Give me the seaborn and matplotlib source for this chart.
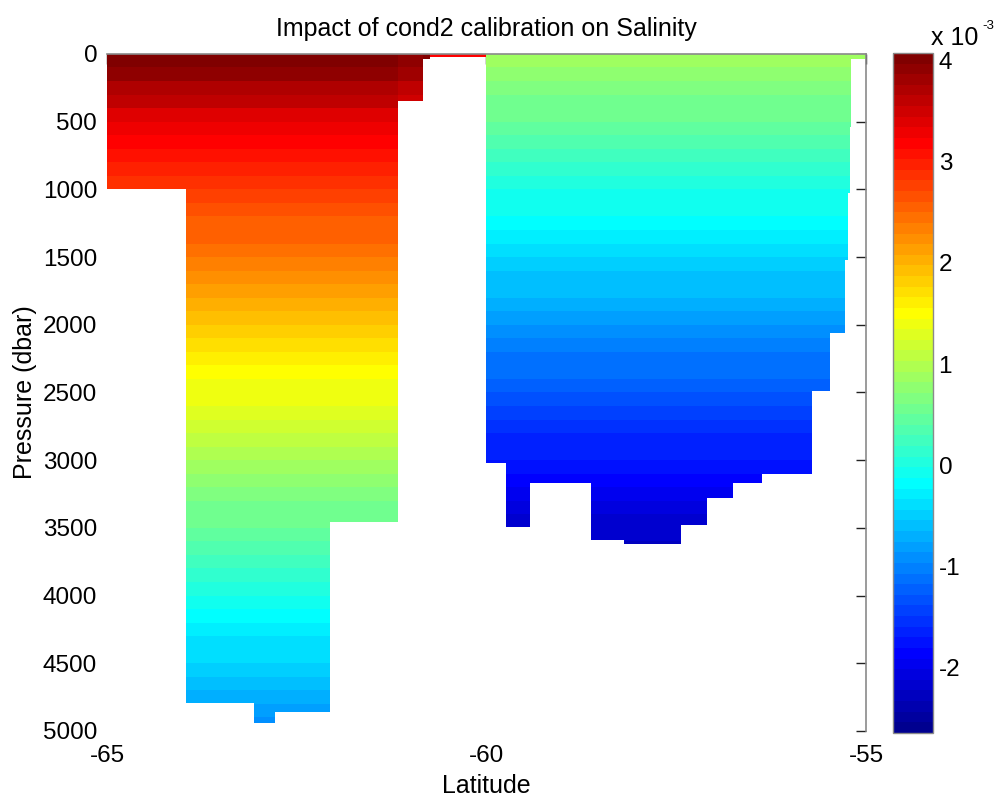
import numpy as np
import matplotlib
matplotlib.use("Agg")
import matplotlib.pyplot as plt
from matplotlib.colors import Normalize, ListedColormap
import seaborn as sns

# Column edges of the section, one column per CTD station (degrees latitude)
lat_edges = [-65.000, -63.958, -63.061, -62.784, -62.058, -61.161, -60.831, -60.739,
             -60.000, -59.749, -59.420, -58.628, -58.193, -57.441, -57.098, -56.755,
             -56.372, -55.712, -55.475, -55.277, -55.234, -55.211, -55.198, -55.000]

# Deepest pressure reached by each station (dbar)
max_pressure = [1000, 4790, 4940, 4860, 3460, 350, 40, 20,
                3020, 3490, 3170, 3590, 3620, 3480, 3280, 3170, 3100,
                2490, 2060, 1520, 1030, 540, 40]

# Which profile each station follows, plus a per-station shift (x 1e-3 psu)
station_group = ["west"] * 8 + ["east"] * 15
station_offset = [0.0, 0.0, 0.0, 0.0, 0.0, -0.10, 0.0, -0.84,
                  0.0, 0.0, 0.0, 0.0, 0.0, 0.0, 0.0, 0.0, 0.0,
                  0.0, 0.0, 0.0, 0.0, 0.0, 0.0]

# Salinity change in 100 dbar layers (x 1e-3 psu), layer tops 0, 100, 200, ...
west_profile = [4.02, 3.90, 3.70, 3.55, 3.40, 3.28, 3.18, 3.08, 2.99, 2.89,
                2.79, 2.70, 2.60, 2.50, 2.41, 2.31, 2.22, 2.12, 2.02, 1.93,
                1.83, 1.73, 1.64, 1.54, 1.445, 1.35, 1.26, 1.16, 1.07, 0.98,
                0.88, 0.79, 0.69, 0.60, 0.51, 0.41, 0.32, 0.22, 0.13, 0.04,
                -0.06, -0.15, -0.25, -0.34, -0.43, -0.53, -0.62, -0.72, -0.81, -0.90]
east_profile = [0.86, 0.77, 0.69, 0.60, 0.51, 0.42, 0.33, 0.25, 0.16, 0.07,
                -0.02, -0.11, -0.19, -0.28, -0.37, -0.46, -0.55, -0.63, -0.72, -0.81,
                -0.90, -0.99, -1.07, -1.16, -1.25, -1.34, -1.43, -1.51, -1.60, -1.69,
                -1.78, -1.87, -1.95, -2.04, -2.13, -2.22, -2.31]

color_limits = (-2.642, 4.074)
colorbar_ticks = [-2, -1, 0, 1, 2, 3, 4]
pressure_ticks = list(range(0, 5001, 500))
latitude_ticks = [-65, -60, -55]

profiles = {"west": west_profile, "east": east_profile}

# Pressure grid of 10 dbar cells; each cell takes the value of its 100 dbar layer
p_edges = np.arange(0, 5001, 10)
p_tops = p_edges[:-1]
field = np.full((len(p_tops), len(max_pressure)), np.nan)
for j, (grp, pmax, off) in enumerate(zip(station_group, max_pressure, station_offset)):
    prof = profiles[grp]
    for i, p in enumerate(p_tops):
        k = int(p // 100)
        if p < pmax and k < len(prof):
            field[i, j] = prof[k] + off
field = np.ma.masked_invalid(field)


def classic_jet(m=64):
    """64-step jet colour table (dark blue -> cyan -> yellow -> dark red)."""
    n = int(np.ceil(m / 4))
    u = np.concatenate([np.arange(1, n + 1) / n, np.ones(n - 1), np.arange(n, 0, -1) / n])
    g = int(np.ceil(n / 2)) - (1 if m % 4 == 1 else 0) + np.arange(1, len(u) + 1)
    r = g + n
    b = g - n
    table = np.zeros((m, 3))
    for col, idx in ((0, r), (1, g), (2, b)):
        keep = (idx >= 1) & (idx <= m)
        table[idx[keep] - 1, col] = u[keep]
    return ListedColormap(table, name="classic_jet")


sns.set_theme(style="white")
plt.rcParams["font.family"] = ["Liberation Sans", "DejaVu Sans"]
plt.rcParams.update({
    "text.color": "black",
    "axes.labelcolor": "black",
    "xtick.color": "black",
    "ytick.color": "black",
})

cmap = classic_jet(64)
norm = Normalize(vmin=color_limits[0], vmax=color_limits[1])

fig = plt.figure(figsize=(9.95, 7.98), dpi=100)
ax = fig.add_axes([0.1075, 0.0840, 0.7628, 0.8484])
ax.set_axisbelow(True)
mesh = ax.pcolormesh(lat_edges, p_edges, field, cmap=cmap, norm=norm,
                     shading="flat", edgecolors="none", antialiased=False)

ax.set_xlim(-65, -55)
ax.set_ylim(5000, 0)
ax.set_xticks(latitude_ticks)
ax.set_xticklabels([str(v) for v in latitude_ticks])
ax.set_yticks(pressure_ticks)
ax.set_yticklabels([str(v) for v in pressure_ticks])
ax.tick_params(direction="in", length=7, width=1.0, color="#222222",
               top=True, right=True, labelsize=17.5)
ax.tick_params(axis="y", pad=7)
ax.tick_params(axis="x", pad=10)
for side in ["left", "bottom"]:
    ax.spines[side].set_visible(False)
for side in ["top", "right"]:
    ax.spines[side].set_color("#8a8a8a")
    ax.spines[side].set_linewidth(1.2)

ax.set_title("Impact of cond2 calibration on Salinity", fontsize=18, pad=13)
ax.set_xlabel("Latitude", fontsize=18, labelpad=5)
ax.set_ylabel("Pressure (dbar)", fontsize=18, labelpad=4)

cax = fig.add_axes([0.8975, 0.0815, 0.0402, 0.8522])
cb = fig.colorbar(mesh, cax=cax, ticks=colorbar_ticks)
cb.ax.set_yticklabels([str(v) for v in colorbar_ticks])
cb.ax.tick_params(direction="in", length=6, width=1.0, color="#222222",
                  left=True, right=True, labelsize=17.5, pad=4)
cb.outline.set_edgecolor("#8a8a8a")
cb.outline.set_linewidth(1.0)
# Scale factor of the colour bar, drawn as "x 10" with a raised exponent
fig.text(0.9355, 0.952, "x 10", fontsize=18, ha="left", va="center")
fig.text(0.9875, 0.968, "-3", fontsize=9.5, ha="left", va="center")

fig.savefig("out.png", dpi=100)
